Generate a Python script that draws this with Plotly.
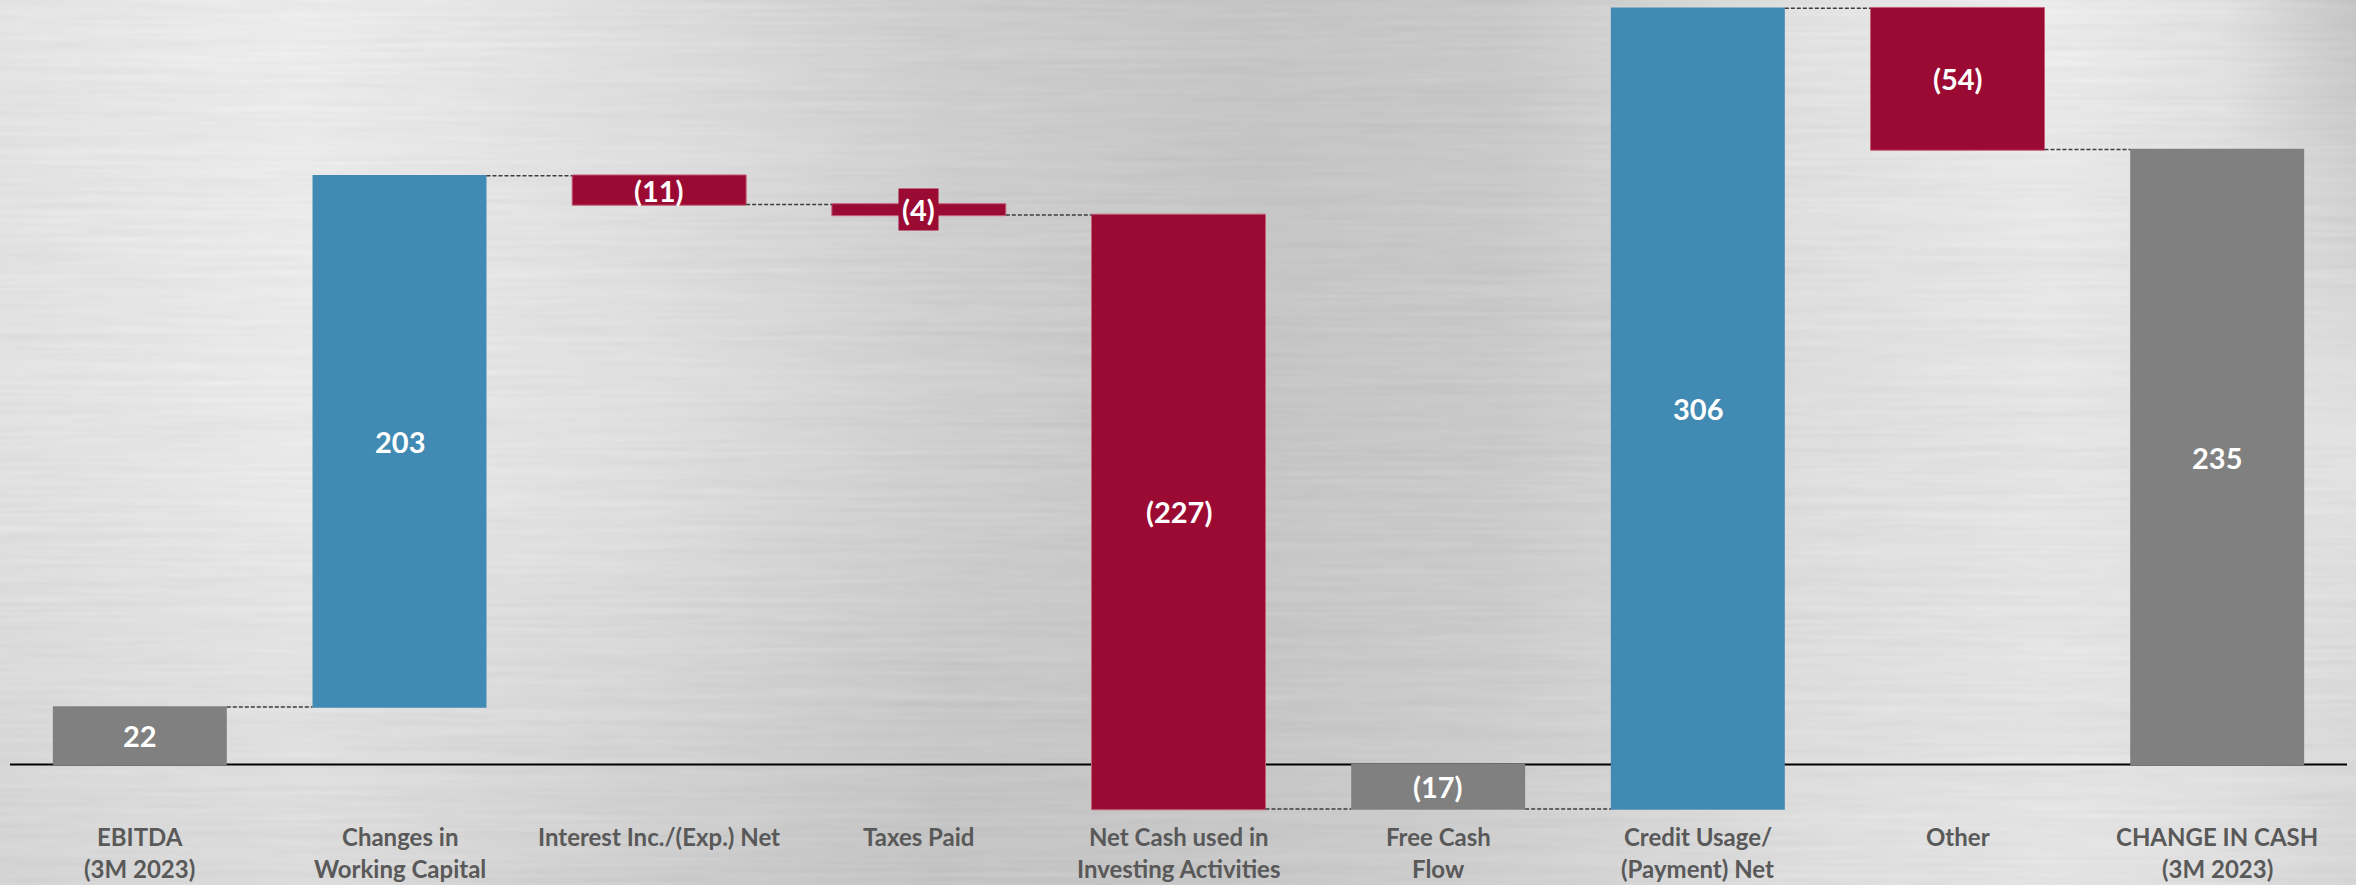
import base64
import struct
import zlib

import numpy as np
import plotly.graph_objects as go

# ---- data -------------------------------------------------------------
categories = [
    "EBITDA<br>(3M 2023)",
    "Changes in<br>Working Capital",
    "Interest Inc./(Exp.) Net",
    "Taxes Paid",
    "Net Cash used in<br>Investing Activities",
    "Free Cash<br>Flow",
    "Credit Usage/<br>(Payment) Net",
    "Other",
    "CHANGE IN CASH<br>(3M 2023)",
]
values = [22, 203, -11, -4, -227, -17, 306, -54, 235]
measures = ["absolute", "relative", "relative", "relative", "relative",
            "absolute", "relative", "relative", "absolute"]

# ---- styling ----------------------------------------------------------
BLUE = "#418AB3"
RED = "#9B0A32"
RED_EDGE = "#C4607A"
GRAY = "#808080"
LABEL_GRAY = "#595959"
FONT = "Lato"

W, H = 2356, 885
M_L, M_R, M_T, M_B = 10, 9, 0, 61
PLOT_W = W - M_L - M_R
PLOT_H = H - M_T - M_B
ZERO_PX = 764.5          # pixel row of the zero line
PX_PER_UNIT = 2.617


def y_at(px):
    """Data value sitting at a given pixel row inside the plot area."""
    return (ZERO_PX - px) / PX_PER_UNIT


def paper_y(px):
    return (PLOT_H + M_T - px) / PLOT_H


# ---- brushed-metal backdrop (drawn as an inline PNG) --------------------
SHADE_X = [0, 300, 650, 950, 1250, 1500, 1800, 2050, 2220, 2356]
SHADE_TOP = [228, 236, 222, 206, 198, 201, 226, 236, 226, 198]
SHADE_MID = [226, 234, 224, 208, 198, 202, 222, 229, 226, 226]
SHADE_BOT = [212, 220, 206, 196, 200, 208, 222, 228, 224, 214]


def grain(n):
    return np.modf(np.abs(np.sin(n * 12.9898 + 78.233) * 43758.5453))[0]


def brushed_metal(w, h):
    xs = np.linspace(0, W, w)
    ys = np.linspace(0, H, h)
    top = np.interp(xs, SHADE_X, SHADE_TOP)
    mid = np.interp(xs, SHADE_X, SHADE_MID)
    bot = np.interp(xs, SHADE_X, SHADE_BOT)
    t = (ys / H)[:, None]
    upper = np.clip(t * 2, 0, 1)
    lower = np.clip(t * 2 - 1, 0, 1)
    base = np.where(t < 0.5,
                    top[None, :] * (1 - upper) + mid[None, :] * upper,
                    mid[None, :] * (1 - lower) + bot[None, :] * lower)

    rows = np.arange(h, dtype=float)[:, None]
    cols = np.arange(w, dtype=float)[None, :]
    streak = np.zeros((h, w))
    for length, amp in ((18, 2.5), (60, 3.0), (180, 2.5)):
        shift = grain(rows * 3.1 + length) * length
        seg = (cols + shift) / length
        i0 = np.floor(seg)
        f = seg - i0
        f = f * f * (3 - 2 * f)
        v0 = grain(rows * 97.0 + i0 * 13.0 + length)
        v1 = grain(rows * 97.0 + (i0 + 1) * 13.0 + length)
        streak += amp * 2 * ((v0 + (v1 - v0) * f) - 0.5)
    streak += 1.5 * 2 * (grain(rows * 7.7) - 0.5)
    img = base + streak
    img[1:] = 0.6 * img[1:] + 0.4 * img[:-1]
    return np.clip(img, 0, 255).astype(np.uint8)


def png_data_uri(gray):
    h, w = gray.shape
    raw = b"".join(b"\x00" + gray[r].tobytes() for r in range(h))

    def chunk(tag, data):
        body = tag + data
        return struct.pack(">I", len(data)) + body + struct.pack(">I", zlib.crc32(body) & 0xFFFFFFFF)

    png = (b"\x89PNG\r\n\x1a\n"
           + chunk(b"IHDR", struct.pack(">IIBBBBB", w, h, 8, 0, 0, 0, 0))
           + chunk(b"IDAT", zlib.compress(raw, 9))
           + chunk(b"IEND", b""))
    return "data:image/png;base64," + base64.b64encode(png).decode("ascii")


backdrop = png_data_uri(brushed_metal(W // 2, H // 2 + 1))

# ---- figure -----------------------------------------------------------
fig = go.Figure()
fig.add_trace(go.Waterfall(
    x=categories,
    y=values,
    measure=measures,
    base=0,
    increasing=dict(marker=dict(color=BLUE)),
    decreasing=dict(marker=dict(color=RED, line=dict(color=RED_EDGE, width=1))),
    totals=dict(marker=dict(color=GRAY)),
    connector=dict(mode="between", line=dict(color="#3C3C3C", width=1.5, dash="4px,2px")),
    textinfo="none",
    hoverinfo="skip",
))

# value labels centred on each bar
annotations = []
running = 0
for cat, val, meas in zip(categories, values, measures):
    start = 0 if meas == "absolute" else running
    end = val if meas == "absolute" else running + val
    running = end
    if meas == "absolute":
        color = GRAY
    else:
        color = BLUE if val >= 0 else RED
    text = f"{val}" if val >= 0 else f"({abs(val)})"
    annotations.append(dict(
        x=cat, y=(start + end) / 2, xref="x", yref="y",
        text=text, showarrow=False,
        font=dict(family=FONT, size=29, color="white", weight="bold"),
        bgcolor=color if abs(val) < 8 else "rgba(0,0,0,0)",
        borderpad=3,
        xanchor="center", yanchor="middle",
    ))

# category captions under the axis
for cat in categories:
    for i, line in enumerate(cat.split("<br>")):
        annotations.append(dict(
            x=cat, y=paper_y(836 + 32 * i), xref="x", yref="paper",
            text=line, showarrow=False,
            font=dict(family=FONT, size=24, color=LABEL_GRAY, weight="bold"),
            xanchor="center", yanchor="middle",
        ))

fig.update_layout(
    width=W, height=H,
    margin=dict(l=M_L, r=M_R, t=M_T, b=M_B, pad=0),
    paper_bgcolor="#DADADA",
    plot_bgcolor="rgba(0,0,0,0)",
    showlegend=False,
    waterfallgap=0.33,
    annotations=annotations,
    images=[dict(
        source=backdrop, xref="paper", yref="paper",
        x=-M_L / PLOT_W, y=1 + M_T / PLOT_H,
        sizex=W / PLOT_W, sizey=H / PLOT_H,
        xanchor="left", yanchor="top", sizing="stretch", layer="below",
    )],
    shapes=[dict(
        type="line", xref="paper", yref="y", x0=0, x1=1, y0=0, y1=0,
        line=dict(color="black", width=2), layer="below",
    )],
    xaxis=dict(showgrid=False, zeroline=False, showticklabels=False,
               showline=False, fixedrange=True),
    yaxis=dict(range=[y_at(M_T + PLOT_H), y_at(M_T)], showgrid=False,
               zeroline=False, showticklabels=False, showline=False, fixedrange=True),
)

fig.write_html("out.html")
